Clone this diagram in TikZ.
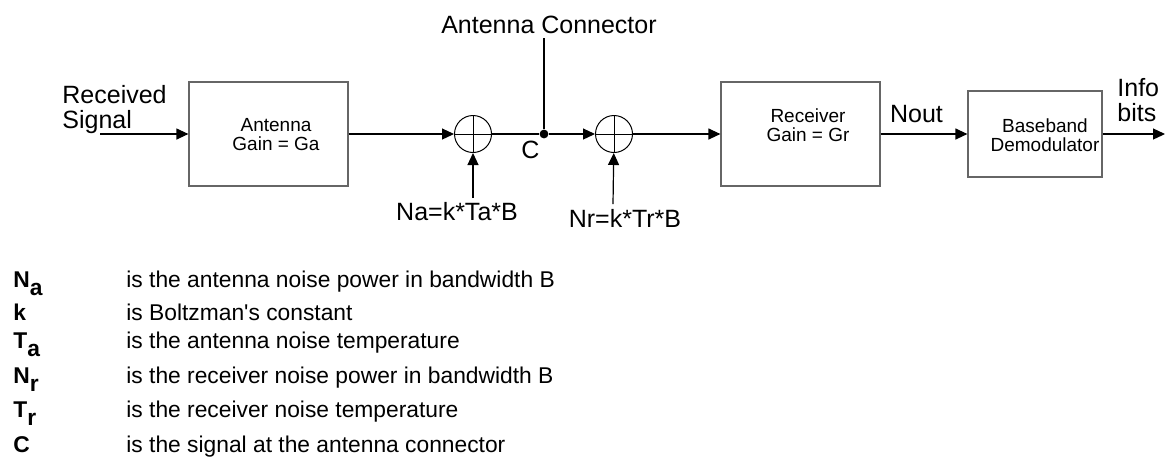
\documentclass[tikz,border=0pt]{standalone}
\usepackage{fontspec}
\setmainfont{Liberation Sans}
\usetikzlibrary{positioning, arrows.meta, calc}

\newcommand{\bigfont}{\fontsize{12.5}{12.4}\selectfont}
\newcommand{\boxfont}{\fontsize{9.5}{9.75}\selectfont}
\newcommand{\legfont}{\fontsize{11.4}{13}\selectfont}

\begin{document}
\begin{tikzpicture}[
  x=0.5pt, y=-0.5pt,
  blockbox/.style={draw=black!60, line width=0.6pt, minimum width=79.5pt, minimum height=52pt, inner sep=0pt},
  sumnode/.style={circle, draw, line width=0.5pt, minimum size=18.5pt, inner sep=0pt,
    path picture={\draw[line width=0.5pt] (path picture bounding box.north) -- (path picture bounding box.south)
      (path picture bounding box.west) -- (path picture bounding box.east);}},
  dotnode/.style={circle, fill, inner sep=0pt, minimum size=4.4pt},
  boxtext/.style={font=\boxfont, align=center, inner sep=0pt},
  bigtext/.style={font=\bigfont, inner sep=0pt},
  conn/.style={-{Triangle[length=6pt, width=5.5pt]}, line width=0.6pt},
  plain/.style={line width=0.6pt},
]
\useasboundingbox (0,0) rectangle (1165,457);

%% ── Blocks ───────────────────────────────────────────────────────────────────
\node[blockbox] (ant) at (268.5,134) {};
\node[sumnode] (sumA) at (473,134) {};
\node[dotnode] (conn) at (544,134) {};
\node[sumnode] (sumR) at (614,134) {};
\node[blockbox] (rcv) at (800.5,134) {};
\node[blockbox, minimum width=67pt, minimum height=43pt] (demod) at (1035,134) {};

%% ── Block texts ──────────────────────────────────────────────────────────────
\node[boxtext, anchor=north] (anttxt) at (276,118) {Antenna\\Gain = Ga};
\node[boxtext, anchor=north] (rcvtxt) at (808,108) {Receiver\\Gain = Gr};
\node[boxtext, anchor=north] (demodtxt) at (1045,118) {Baseband\\Demodulator};

%% ── Free ends ────────────────────────────────────────────────────────────────
\coordinate (rsig) at (100,134);
\coordinate (conntop) at (544,38);
\coordinate (naend) at (473,198);
\coordinate (nrend) at (613,204);
\coordinate (bitsout) at (1165,134);

%% ── Signal path ──────────────────────────────────────────────────────────────
\draw[conn] (rsig) -- (ant);
\draw[conn] (ant) -- (sumA);
\draw[plain] (sumA) -- (conn);
\draw[conn] (conn) -- (sumR);
\draw[conn] (sumR) -- (rcv);
\draw[conn] (rcv) -- (demod);
\draw[conn] (demod) -- (bitsout);
\draw[plain] (conn) -- (conntop);
\draw[conn] (naend) -- (sumA);
\draw[conn] (nrend) -- (sumR);

%% ── Labels ───────────────────────────────────────────────────────────────────
\node[bigtext, align=left, anchor=north west] (recvtxt) at (62,85) {Received\\Signal};
\node[bigtext, anchor=base] (conntxt) at (549,33) {Antenna Connector};
\node[bigtext, anchor=base] (ctxt) at (530.5,158) {C};
\node[bigtext, anchor=base] (natxt) at (457,220) {Na=k*Ta*B};
\node[bigtext, anchor=base] (nrtxt) at (625,227) {Nr=k*Tr*B};
\node[bigtext, anchor=base] (nouttxt) at (916.5,122) {Nout};
\node[bigtext, align=left, anchor=north west] (infotxt) at (1117,78) {Info\\bits};

%% ── Legend ───────────────────────────────────────────────────────────────────
\foreach \sym/\desc/\yy [count=\i] in {
  {\textbf{N}\raisebox{-4pt}{\textbf{a}}}/{is the antenna noise power in bandwidth B}/287,
  {\textbf{k}}/{is Boltzman\textquotesingle s constant}/320,
  {\textbf{T}\raisebox{-4pt}{\textbf{a}}}/{is the antenna noise temperature}/348,
  {\textbf{N}\raisebox{-4pt}{\textbf{r}}}/{is the receiver noise power in bandwidth B}/383,
  {\textbf{T}\raisebox{-4pt}{\textbf{r}}}/{is the receiver noise temperature}/417,
  {\textbf{C}}/{is the signal at the antenna connector}/452} {
  \node[font=\legfont, inner sep=0pt, anchor=base west] (sym\i) at (13,\yy) {\sym};
  \node[font=\legfont, inner sep=0pt, anchor=base west] (desc\i) at (126,\yy) {\desc};
}

\end{tikzpicture}
\end{document}
